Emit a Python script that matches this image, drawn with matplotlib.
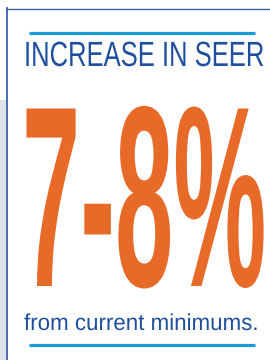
import matplotlib
matplotlib.use("Agg")
import matplotlib.pyplot as plt
from matplotlib.patheffects import AbstractPathEffect
from matplotlib.transforms import Affine2D

# texts of the panel
headline = "INCREASE IN SEER"
big_value = "7-8%"
footnote = "from current minimums."

orange = "#e86a28"
navy = "#1f4f9e"
cyan = "#1a9ad8"
frame = "#3b62ad"
band = "#dde1ea"


class Stretch(AbstractPathEffect):
    """scale glyphs around display point (x0, y0)"""
    def __init__(self, sx=1.0, sy=1.0, x0=0.0, y0=0.0):
        super().__init__()
        self.sx, self.sy = sx, sy
        self.x0, self.y0 = x0, y0

    def draw_path(self, renderer, gc, tpath, affine, rgbFace=None):
        t = affine + Affine2D().translate(-self.x0, -self.y0) \
            .scale(self.sx, self.sy).translate(self.x0, self.y0)
        renderer.draw_path(gc, tpath, t, rgbFace)


fig = plt.figure(figsize=(2.7, 3.6), dpi=100)
ax = fig.add_axes([0, 0, 1, 1])
ax.set_xlim(0, 270)
ax.set_ylim(360, 0)
ax.axis("off")

# frame
ax.fill_between([0, 6], 100, 360, color=band, lw=0)
ax.plot([6, 270], [8.5, 8.5], color=frame, lw=1.0)
ax.plot([6.5, 6.5], [8, 360], color=frame, lw=1.3)

# cyan rules
ax.plot([29, 255], [33, 33], color=cyan, lw=2.3, solid_capstyle="butt")
ax.plot([29, 255], [345, 345], color=cyan, lw=2.3, solid_capstyle="butt")

renderer = fig.canvas.get_renderer()


def stretched(x, y, s, width, size_px, **kw):
    # pick the size that gives the wanted width, then stretch up to size_px
    t = ax.text(x, y, s, ha="left", va="baseline", fontsize=10, **kw)
    w10 = t.get_window_extent(renderer).width
    fs = 10 * width / w10
    t.set_fontsize(fs)
    sy = size_px / (fs * 100 / 72)
    x0, y0 = ax.transData.transform((x, y))
    t.set_path_effects([Stretch(1.0, sy, x0, y0)])
    return t


stretched(24, 66, headline, 240, 35, color=navy, family="Liberation Sans")
stretched(22, 286, big_value, 244, 258, color=orange,
          family="Liberation Sans", fontweight="bold")
stretched(24, 330, footnote, 236, 23, color=navy, family="Liberation Sans")

fig.savefig("out.png", dpi=100)
